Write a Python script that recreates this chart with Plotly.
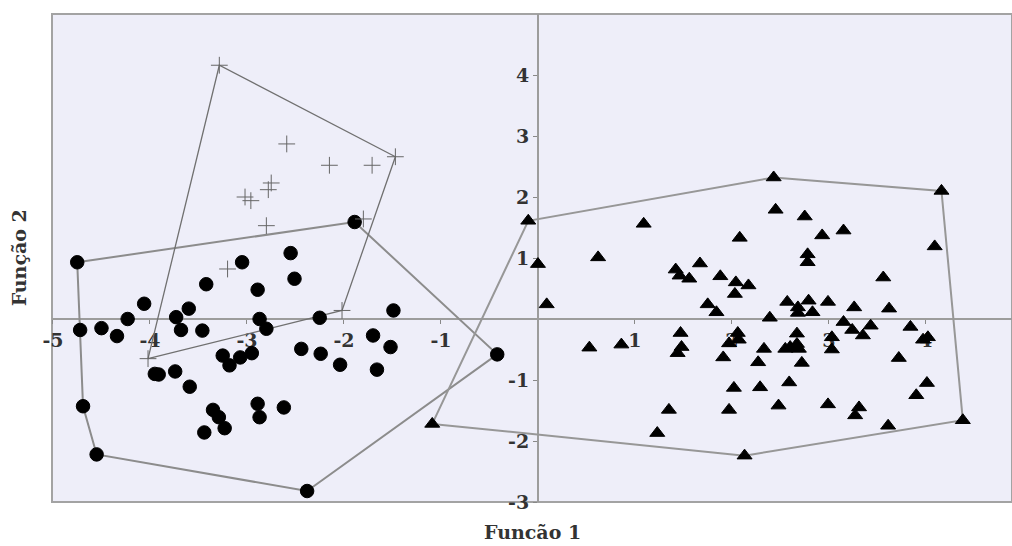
import plotly.graph_objects as go

# Discriminant scores (Função 1, Função 2) per group
circ_x = [-4.75, -4.72, -4.50, -4.34, -4.23, -4.06, -3.73, -3.68, -3.60, -3.46,
          -3.42, -3.05, -2.89, -2.87, -2.80, -3.25, -3.18, -3.07, -2.95, -3.95,
          -3.91, -3.74, -3.59, -3.35, -3.29, -3.23, -3.44, -2.89, -2.87, -4.69,
          -4.55, -2.62, -1.89, -2.55, -2.51, -2.25, -1.49, -1.70, -1.52, -2.44,
          -2.24, -2.04, -1.66, -0.42, -2.38]
circ_y = [0.93, -0.18, -0.15, -0.28, 0.00, 0.25, 0.03, -0.18, 0.17, -0.19,
          0.57, 0.93, 0.48, 0.00, -0.16, -0.60, -0.76, -0.63, -0.56, -0.90,
          -0.91, -0.86, -1.11, -1.49, -1.61, -1.79, -1.86, -1.39, -1.61, -1.43,
          -2.22, -1.45, 1.59, 1.08, 0.66, 0.02, 0.14, -0.27, -0.46, -0.49,
          -0.57, -0.75, -0.83, -0.58, -2.82]

cross_x = [-3.285, -2.59, -2.15, -1.71, -1.47, -2.75, -2.78, -3.02, -2.96, -2.80,
           -3.20, -1.80, -4.02, -2.02]
cross_y = [4.16, 2.87, 2.52, 2.52, 2.66, 2.23, 2.12, 2.00, 1.94, 1.53,
           0.82, 1.64, -0.65, 0.14]

tri_x = [-0.10, 0.00, 0.09, 0.62, 1.09, 1.42, 1.46, 1.56, 0.53, 0.86,
         1.47, 1.48, 1.44, 1.35, 1.23, -1.09, 2.43, 2.45, 2.75, 2.08,
         2.93, 3.15, 2.78, 2.78, 1.67, 1.88, 2.04, 2.03, 2.17, 1.75,
         1.84, 2.57, 2.68, 2.68, 2.79, 2.83, 2.99, 2.39, 3.15, 2.06,
         2.07, 1.97, 1.91, 2.33, 2.27, 2.67, 2.67, 2.55, 2.60, 2.69,
         2.72, 3.03, 3.03, 2.02, 2.29, 2.59, 1.97, 2.48, 2.99, 2.13,
         4.16, 4.09, 3.56, 3.26, 3.62, 3.24, 3.43, 3.35, 3.84, 3.97,
         4.02, 3.72, 4.01, 3.90, 3.31, 3.27, 3.61, 4.38]
tri_y = [1.61, 0.90, 0.24, 1.01, 1.56, 0.81, 0.71, 0.66, -0.47, -0.42,
         -0.23, -0.46, -0.56, -1.49, -1.87, -1.72, 2.32, 1.79, 1.68, 1.33,
         1.37, 1.45, 1.06, 0.93, 0.91, 0.70, 0.60, 0.41, 0.55, 0.24,
         0.11, 0.28, 0.19, 0.10, 0.30, 0.11, 0.28, 0.02, -0.05, -0.23,
         -0.34, -0.40, -0.63, -0.49, -0.71, -0.24, -0.41, -0.49, -0.46, -0.49,
         -0.72, -0.30, -0.50, -1.13, -1.12, -1.04, -1.49, -1.42, -1.40, -2.24,
         2.10, 1.19, 0.68, 0.19, 0.17, -0.18, -0.11, -0.27, -0.13, -0.34,
         -0.30, -0.64, -1.05, -1.25, -1.45, -1.58, -1.75, -1.66]

x_ticks = [-5, -4, -3, -2, -1, 1, 2, 3, 4]
x_labels = ["-5", "-4", "-3", "-2", "-1", "1", "2", "3", "4"]
y_ticks = [-3, -2, -1, 1, 2, 3, 4]
y_labels = ["-3", "-2", "-1", "1", "2", "3", "4"]

x_range = [-5.01, 4.887]
y_range = [-3, 5]


def convex_hull(xs, ys):
    """Monotone chain hull, returned as a closed ring of x and y lists."""
    pts = sorted(set(zip(xs, ys)))

    def cross(o, a, b):
        return (a[0] - o[0]) * (b[1] - o[1]) - (a[1] - o[1]) * (b[0] - o[0])

    lower, upper = [], []
    for p in pts:
        while len(lower) >= 2 and cross(lower[-2], lower[-1], p) <= 0:
            lower.pop()
        lower.append(p)
    for p in reversed(pts):
        while len(upper) >= 2 and cross(upper[-2], upper[-1], p) <= 0:
            upper.pop()
        upper.append(p)
    ring = lower[:-1] + upper[:-1]
    ring.append(ring[0])
    return [p[0] for p in ring], [p[1] for p in ring]


fig = go.Figure()

# group outlines
for xs, ys, col, w in [(circ_x, circ_y, "#8c8c8c", 2),
                       (cross_x, cross_y, "#707070", 1.3),
                       (tri_x, tri_y, "#979797", 2)]:
    hx, hy = convex_hull(xs, ys)
    fig.add_trace(go.Scatter(x=hx, y=hy, mode="lines",
                             line=dict(color=col, width=w), hoverinfo="skip"))

fig.add_trace(go.Scatter(x=circ_x, y=circ_y, mode="markers",
                         marker=dict(symbol="circle", size=13.5, color="black",
                                     line=dict(color="black", width=1))))
fig.add_trace(go.Scatter(x=cross_x, y=cross_y, mode="markers",
                         marker=dict(symbol="cross-thin", size=12,
                                     line=dict(color="#666666", width=1))))
fig.add_trace(go.Scatter(x=tri_x, y=tri_y, mode="markers",
                         marker=dict(symbol="triangle-up", size=13, color="black",
                                     line=dict(color="black", width=1))))

tick_font = dict(family="DejaVu Serif", size=19, color="#333333", weight="bold")
title_font = dict(family="DejaVu Serif", size=19, color="#333333", weight="bold")

# axes cross at the origin
x_pos = (0 - y_range[0]) / (y_range[1] - y_range[0])
y_pos = (0 - x_range[0]) / (x_range[1] - x_range[0])

fig.update_layout(
    width=1012, height=546,
    margin=dict(l=52, r=0, t=14, b=44),
    plot_bgcolor="#EEEEF9", paper_bgcolor="white",
    showlegend=False,
    xaxis=dict(range=x_range, anchor="free", position=x_pos,
               showline=True, linecolor="#9c9c9c", linewidth=2,
               ticks="outside", ticklen=4, tickcolor="#888888",
               tickvals=x_ticks, ticktext=x_labels, tickfont=tick_font,
               showgrid=False, zeroline=False, layer="below traces"),
    yaxis=dict(range=y_range, anchor="free", position=y_pos,
               showline=True, linecolor="#9c9c9c", linewidth=2,
               ticks="outside", ticklen=4, tickcolor="#888888",
               tickvals=y_ticks, ticktext=y_labels, tickfont=tick_font,
               showgrid=False, zeroline=False, layer="below traces"),
    shapes=[dict(type="rect", xref="paper", yref="paper", x0=0, x1=1, y0=0, y1=1,
                 line=dict(color="#a3a3a3", width=2), layer="below")],
    annotations=[
        dict(text="Funcão 1", xref="paper", yref="paper", x=0.5, y=-0.062,
             xanchor="center", yanchor="middle", showarrow=False, font=title_font),
        dict(text="Função 2", xref="paper", yref="paper", x=-0.034, y=0.5,
             xanchor="center", yanchor="middle", textangle=-90, showarrow=False,
             font=title_font),
    ],
)

fig.write_html("out.html")
